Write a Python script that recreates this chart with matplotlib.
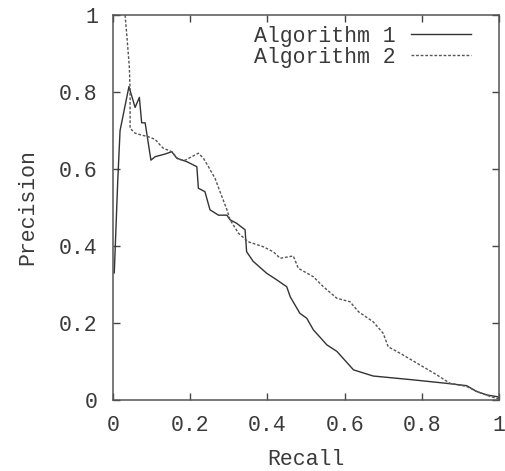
import matplotlib
matplotlib.use("Agg")
import matplotlib.pyplot as plt

# precision / recall curves
recall_1 = [0.003, 0.012, 0.018, 0.041, 0.057, 0.068, 0.074, 0.083, 0.098, 0.109,
            0.135, 0.152, 0.165, 0.191, 0.217, 0.221, 0.238, 0.251, 0.273, 0.295,
            0.303, 0.320, 0.342, 0.346, 0.363, 0.398, 0.424, 0.450, 0.459, 0.484,
            0.502, 0.519, 0.554, 0.580, 0.623, 0.674, 0.778, 0.864, 0.916, 0.942,
            0.968, 0.997, 1.0]
precision_1 = [0.33, 0.57, 0.70, 0.814, 0.76, 0.786, 0.72, 0.72, 0.623, 0.632,
               0.639, 0.645, 0.628, 0.619, 0.606, 0.55, 0.541, 0.494, 0.48, 0.48,
               0.468, 0.459, 0.442, 0.385, 0.36, 0.329, 0.312, 0.294, 0.268, 0.225,
               0.212, 0.182, 0.143, 0.126, 0.078, 0.062, 0.052, 0.043, 0.037, 0.022,
               0.013, 0.008, 0.006]

recall_2 = [0.031, 0.035, 0.042, 0.044, 0.044, 0.057, 0.074, 0.091, 0.109, 0.122,
            0.130, 0.152, 0.169, 0.187, 0.204, 0.221, 0.234, 0.247, 0.264, 0.282,
            0.295, 0.303, 0.325, 0.350, 0.389, 0.415, 0.433, 0.467, 0.480, 0.519,
            0.545, 0.580, 0.614, 0.636, 0.674, 0.700, 0.713, 0.744, 0.795, 0.839,
            0.873, 0.916, 0.942, 0.977, 0.994, 1.0]
precision_2 = [1.0, 0.953, 0.866, 0.805, 0.706, 0.693, 0.688, 0.684, 0.677, 0.662,
               0.654, 0.645, 0.625, 0.623, 0.632, 0.641, 0.628, 0.606, 0.576, 0.528,
               0.494, 0.468, 0.433, 0.411, 0.398, 0.385, 0.368, 0.374, 0.342, 0.32,
               0.294, 0.264, 0.255, 0.229, 0.203, 0.173, 0.138, 0.121, 0.091, 0.065,
               0.043, 0.035, 0.022, 0.009, 0.004, 0.003]

ticks = [0, 0.2, 0.4, 0.6, 0.8, 1]
tick_labels = ["0", "0.2", "0.4", "0.6", "0.8", "1"]

plt.rcParams['font.family'] = ['Liberation Mono', 'DejaVu Sans Mono']
fs = 15.5
txt = '#3a3a3a'

fig = plt.figure(figsize=(5.05, 4.71), dpi=100)
ax = fig.add_axes([0.224, 0.151, 0.764, 0.817])

ax.plot(recall_1, precision_1, color='#333333', lw=1.0, label='Algorithm 1')
ax.plot(recall_2, precision_2, color='#555555', lw=1.0, linestyle=(0, (2, 1.3)),
        label='Algorithm 2')

ax.set_xlim(0, 1)
ax.set_ylim(0, 1)
ax.set_xticks(ticks)
ax.set_xticklabels(tick_labels)
ax.set_yticks(ticks)
ax.set_yticklabels(tick_labels)
ax.tick_params(direction='in', length=5, width=1, colors='#444444',
               labelsize=fs, labelcolor=txt, top=True, right=True)
ax.tick_params(axis='y', pad=11)
ax.tick_params(axis='x', pad=11)
for s in ax.spines.values():
    s.set_color('#555555')
    s.set_linewidth(1.1)

ax.set_xlabel('Recall', fontsize=fs, color=txt, labelpad=9.5)
ax.set_ylabel('Precision', fontsize=fs, color=txt, labelpad=15)

leg = ax.legend(loc='upper right', frameon=False, markerfirst=False, fontsize=fs,
                handlelength=2.8, handletextpad=0.7, labelspacing=0.0,
                borderaxespad=0.1, labelcolor=txt,
                bbox_to_anchor=(0.955, 1.0))

fig.savefig('out.png', dpi=100)
